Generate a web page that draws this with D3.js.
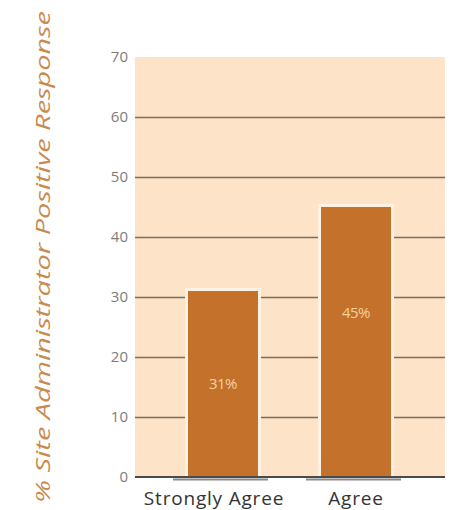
<!DOCTYPE html>
<html>
<head>
<meta charset="utf-8">
<script src="https://cdn.jsdelivr.net/npm/d3@7"></script>
<style>
  body { margin: 0; background: #fff; }
  svg { display: block; }
</style>
</head>
<body>
<svg id="chart" width="452" height="510"></svg>
<script>
// data
const categories = ["Strongly Agree", "Agree"];
const values = [31, 45];
const barLabels = ["31%", "45%"];
const yTicks = [0, 10, 20, 30, 40, 50, 60, 70];
const yTitle = "% Site Administrator  Positive Response";

const svg = d3.select("#chart");
const panel = { left: 135, right: 445, top: 57, bottom: 477 };

const y = d3.scaleLinear().domain([0, 70]).range([panel.bottom, panel.top]);
const x = d3.scaleBand()
  .domain(categories)
  .range([188, 391])
  .paddingInner(0.474)
  .paddingOuter(0);

// background panel
svg.append("rect")
  .attr("x", panel.left)
  .attr("y", panel.top)
  .attr("width", panel.right - panel.left)
  .attr("height", panel.bottom - panel.top)
  .attr("fill", "#fde3c8");

// gridlines + tick labels via axis
const yAxis = svg.append("g")
  .attr("transform", "translate(" + panel.left + ",0)")
  .call(d3.axisLeft(y).tickValues(yTicks).tickSize(-(panel.right - panel.left)).tickPadding(7));
yAxis.select(".domain").remove();
yAxis.selectAll(".tick line")
  .attr("stroke", "#7d6c5c")
  .attr("stroke-width", 1.5)
  .attr("opacity", d => (d === 0 || d === 70) ? 0 : 1);
yAxis.selectAll(".tick text")
  .attr("fill", "#7c7c7c")
  .style("font-family", "'Open Sans', sans-serif")
  .style("font-size", "15px");

// bars: light halo then fill
const bars = svg.append("g").selectAll("g.bar")
  .data(values)
  .enter()
  .append("g")
  .attr("class", "bar");

bars.append("rect")
  .attr("x", (d, i) => x(categories[i]) - 3)
  .attr("y", d => y(d) - 3)
  .attr("width", x.bandwidth() + 6)
  .attr("height", d => panel.bottom - y(d) + 3)
  .attr("fill", "#fff2e2");

bars.append("rect")
  .attr("x", (d, i) => x(categories[i]))
  .attr("y", d => y(d))
  .attr("width", x.bandwidth())
  .attr("height", d => panel.bottom - y(d))
  .attr("fill", "#c4712b");

// value labels
bars.append("text")
  .attr("x", (d, i) => x(categories[i]) + x.bandwidth() / 2)
  .attr("y", d => d < 40 ? y(d / 2) + 5 : y(d) + 111)
  .attr("text-anchor", "middle")
  .attr("fill", "#f6d0a2")
  .style("font-family", "'Open Sans', sans-serif")
  .style("font-size", "15px")
  .style("letter-spacing", "-0.5px")
  .text((d, i) => barLabels[i]);

// baseline with shadow under the bars
svg.selectAll("line.shadow")
  .data(categories)
  .enter()
  .append("line")
  .attr("class", "shadow")
  .attr("x1", d => x(d) - 15)
  .attr("x2", d => x(d) + x.bandwidth() + 10)
  .attr("y1", panel.bottom + 2.5)
  .attr("y2", panel.bottom + 2.5)
  .attr("stroke", "#8a8a8a")
  .attr("stroke-width", 2);

svg.append("line")
  .attr("x1", panel.left)
  .attr("x2", panel.right)
  .attr("y1", panel.bottom)
  .attr("y2", panel.bottom)
  .attr("stroke", "#4a4a4a")
  .attr("stroke-width", 2.2);

// category labels
svg.append("g").selectAll("text")
  .data(categories)
  .enter()
  .append("text")
  .attr("x", (d, i) => i === 0 ? x(d) + x.bandwidth() / 2 - 9 : x(d) + x.bandwidth() / 2)
  .attr("y", 505)
  .attr("text-anchor", "middle")
  .attr("fill", "#333")
  .style("font-family", "'Open Sans', sans-serif")
  .style("font-size", "19px")
  .style("letter-spacing", "0.8px")
  .text(d => d);

// y title
svg.append("text")
  .attr("transform", "translate(50,257) rotate(-90)")
  .attr("text-anchor", "middle")
  .attr("fill", "#c98a4e")
  .style("font-family", "'Open Sans', sans-serif")
  .style("font-style", "italic")
  .style("font-size", "20px")
  .attr("textLength", 492)
  .attr("lengthAdjust", "spacingAndGlyphs")
  .text(yTitle);
</script>
</body>
</html>
